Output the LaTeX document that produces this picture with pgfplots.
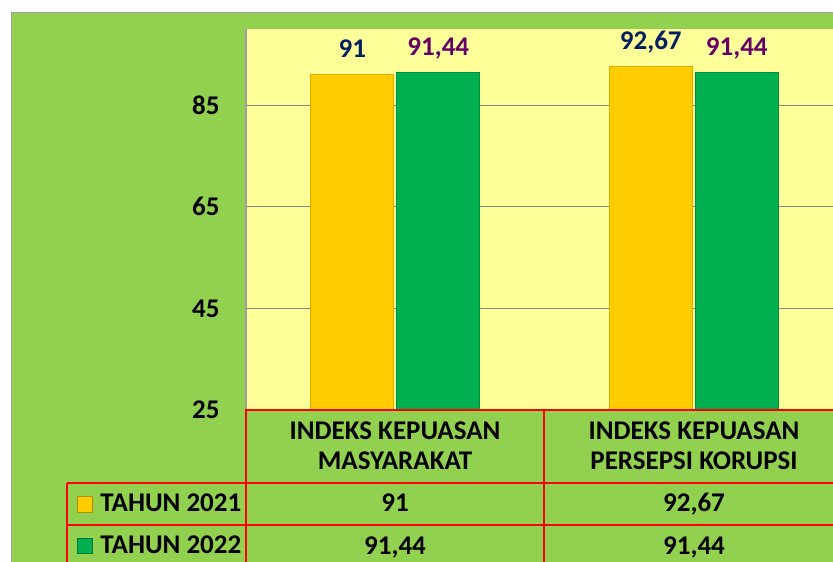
\documentclass[border=0pt]{standalone}
\usepackage{pgfplots}
\pgfplotsset{compat=1.18}
\usepackage{fontspec}
\setmainfont{Carlito}
\definecolor{bggreen}{HTML}{92D050}
\definecolor{plotbg}{HTML}{FFFF99}
\definecolor{baryellow}{HTML}{FFCC00}
\definecolor{bargreen}{HTML}{00B050}
\definecolor{navy}{HTML}{002060}
\definecolor{purp}{HTML}{660066}
\definecolor{gridgray}{HTML}{868686}
\definecolor{framegray}{HTML}{A0A0A0}
\newcommand{\lblfont}{\fontsize{13.5pt}{15pt}\selectfont\bfseries}
\begin{document}
\begin{tikzpicture}[x=0.5pt,y=0.5pt,font=\lblfont]
\useasboundingbox (0,0) rectangle (833,561);
\clip (0,0) rectangle (833,561);
\fill[white] (0,0) rectangle (833,561);
\filldraw[fill=bggreen, draw=framegray, line width=0.9pt] (11.5,548.5) rectangle (900,-50);
\begin{axis}[at={(123pt,75.5pt)}, anchor=south west, scale only axis,
  width=298.5pt, height=190.5pt,
  xmin=-0.5, xmax=1.5, ymin=25, ymax=100,
  axis background/.style={fill=plotbg},
  axis line style={draw=none},
  xtick=\empty, ytick={25,45,65,85}, major tick length=0pt,
  ymajorgrids, grid style={gridgray, line width=0.6pt},
  yticklabel style={inner sep=0pt, xshift=-13pt, font=\lblfont},
  /pgf/number format/use comma, /pgf/number format/fixed,
  /pgf/number format/precision=2, /pgf/number format/assume math mode=true,
  /pgf/number format/1000 sep={},
  ybar, bar width=41.5pt,
  nodes near coords,
  every node near coord/.append style={anchor=base, inner sep=0pt, yshift=8.5pt, font=\lblfont},
  clip=false]
\addplot[fill=baryellow, draw=baryellow!85!black, line width=0.6pt, bar shift=-21.5pt,
  every node near coord/.append style={text=navy}] coordinates {(0,91) (1,92.67)};
\addplot[fill=bargreen, draw=bargreen!80!black, line width=0.6pt, bar shift=21.5pt,
  every node near coord/.append style={text=purp}] coordinates {(0,91.44) (1,91.44)};
\end{axis}
\draw[framegray, line width=0.8pt] (246,151) -- (246,532);
% table
\begin{scope}[red, line width=1pt]
\draw (245,151) -- (900,151);
\draw (67,78) -- (900,78);
\draw (67,36) -- (900,36);
\draw (246,151) -- (246,-10);
\draw (544,151) -- (544,-10);
\draw (67,78) -- (67,-10);
\end{scope}
\node[anchor=base] at (395,121) {INDEKS KEPUASAN};
\node[anchor=base] at (395,91) {MASYARAKAT};
\node[anchor=base] at (694,121) {INDEKS KEPUASAN};
\node[anchor=base] at (694,91) {PERSEPSI KORUPSI};
\node[anchor=base] at (395,49) {91};
\node[anchor=base] at (395,7) {91,44};
\node[anchor=base] at (694,49) {92,67};
\node[anchor=base] at (694,7) {91,44};
\filldraw[fill=baryellow, draw=baryellow!70!black, line width=0.5pt] (77,49) rectangle (92,64);
\filldraw[fill=bargreen, draw=bargreen!70!black, line width=0.5pt] (77,8) rectangle (92,23);
\node[anchor=base west, inner sep=0pt] at (100,49) {TAHUN 2021};
\node[anchor=base west, inner sep=0pt] at (100,8) {TAHUN 2022};
\end{tikzpicture}
\end{document}
